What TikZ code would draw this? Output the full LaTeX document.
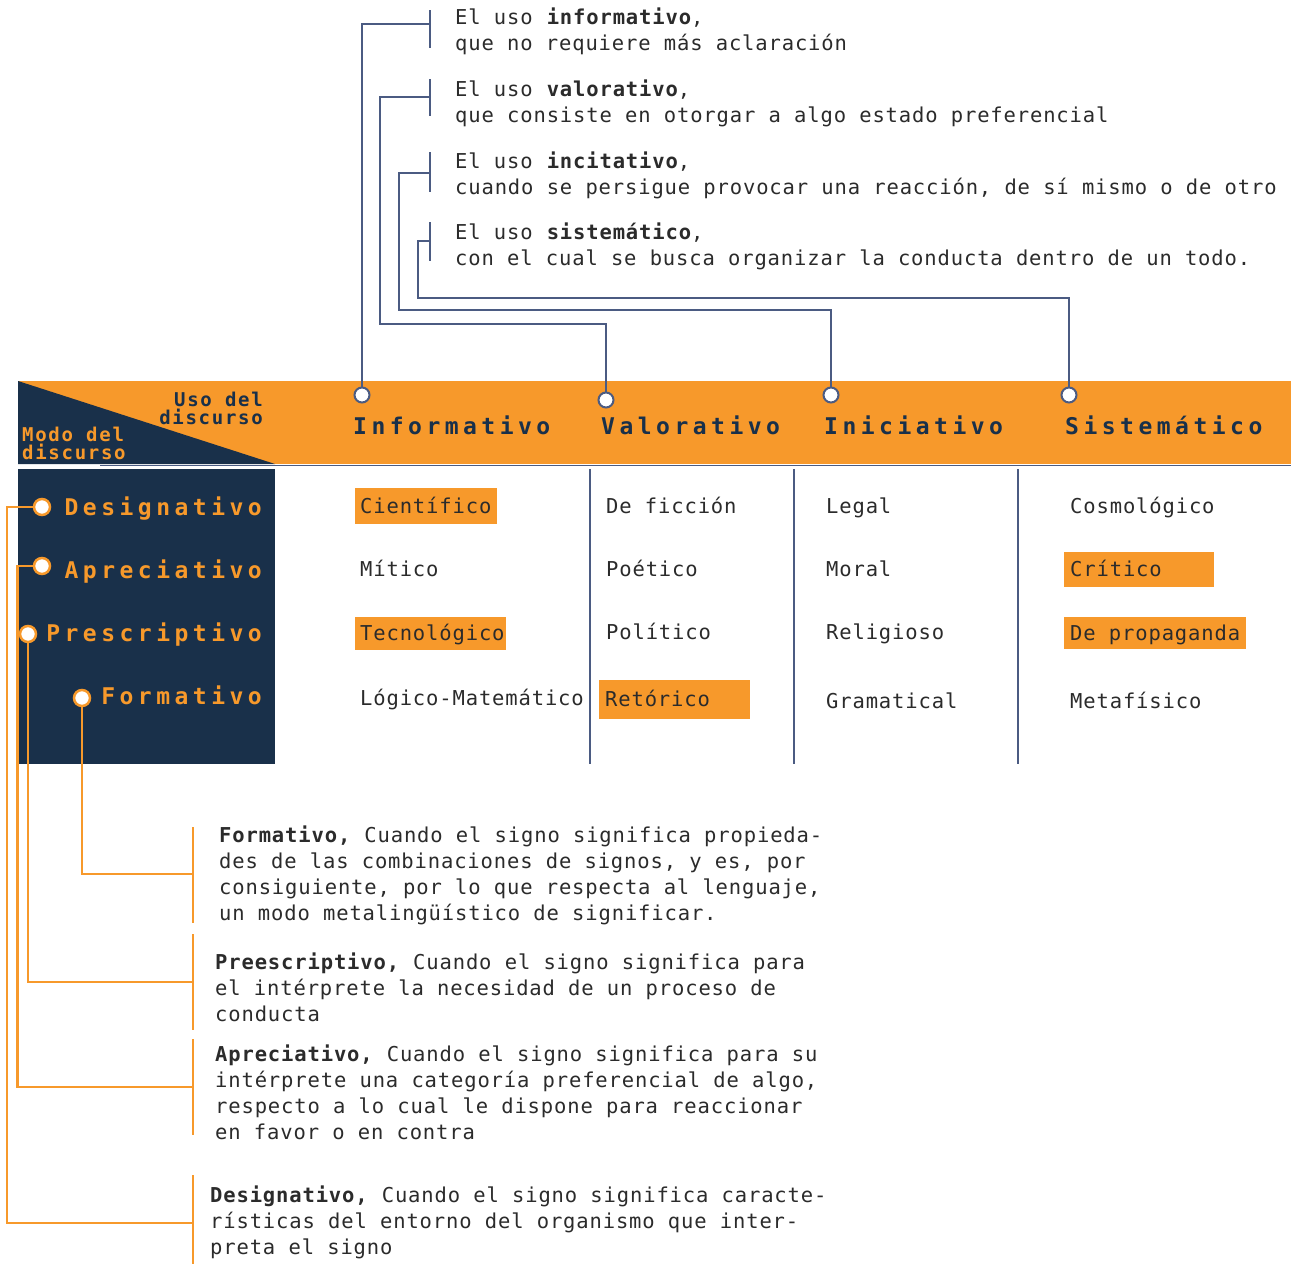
\documentclass[tikz,border=0pt]{standalone}
\usepackage{fontspec}
\newfontfamily\monoA[LetterSpace=4.2]{DejaVu Sans Mono}
\newfontfamily\monoB[LetterSpace=19.5]{DejaVu Sans Mono}
\newfontfamily\monoC[LetterSpace=9]{DejaVu Sans Mono}
\definecolor{org}{HTML}{F7992B}
\definecolor{navy}{HTML}{19304A}
\definecolor{slate}{HTML}{4B5B82}
\definecolor{txt}{HTML}{2B2B2B}
\begin{document}
\begin{tikzpicture}[x=1pt,y=-1pt,
  every node/.style={inner sep=0},
  body/.style={font=\monoA\fontsize{20.5}{26}\selectfont, text=txt, align=left, anchor=base west},
  cell/.style={font=\monoA\fontsize{20.5}{26}\selectfont, text=txt, anchor=west, inner xsep=5, text height=17, text depth=3, align=left},
  hdr/.style={font=\monoB\bfseries\fontsize{23}{26}\selectfont, text=navy, anchor=base west},
  lbl/.style={font=\monoB\bfseries\fontsize{23}{26}\selectfont, text=org, anchor=base east},
  small/.style={font=\monoC\bfseries\fontsize{19}{18}\selectfont},
  hc/.style={circle, draw=slate, fill=white, line width=2, minimum size=15},
  lc/.style={circle, draw=org, fill=white, line width=2.5, minimum size=16},
  sl/.style={draw=slate, line width=2},
  ol/.style={draw=org, line width=2.2}]
\useasboundingbox[fill=white] (0,0) rectangle (1293,1264);

% header band
\fill[org] (18,381) rectangle (1291,464);
\fill[navy] (18,381) -- (18,464) -- (275,464) -- cycle;
\draw[slate, line width=1.5] (100,465.5) -- (1291,465.5);
\node[small, text=navy, align=right, anchor=base east] (uso) at (263,424) {Uso del\\discurso};
\node[small, text=org, align=left, anchor=base west] (modo) at (22,459) {Modo del\\discurso};

% left dark box
\node[fill=navy, minimum width=257, minimum height=295, anchor=north west] (mbox) at (18,469) {};

% column separators
\draw[sl] (590,469) -- (590,764);
\draw[sl] (794,469) -- (794,764);
\draw[sl] (1018,469) -- (1018,764);

% header labels
\node[hdr] (hI) at (353,434) {Informativo};
\node[hdr] (hV) at (601,434) {Valorativo};
\node[hdr] (hN) at (824,434) {Iniciativo};
\node[hdr] (hS) at (1065,434) {Sistemático};

% left labels
\node[lbl] (lD) at (262,515) {Designativo};
\node[lbl] (lA) at (262,578) {Apreciativo};
\node[lbl] (lP) at (262,641) {Prescriptivo};
\node[lbl] (lF) at (262,704) {Formativo};

% cells
\node[cell, fill=org, text width=132, minimum height=36] (c11) at (355,506) {\rlap{Científico}};
\node[cell] (c12) at (355,569) {Mítico};
\node[cell, fill=org, text width=141, minimum height=33] (c13) at (355,633.5) {\rlap{Tecnológico}};
\node[cell] (c14) at (355,698) {Lógico-Matemático};
\node[cell] (c21) at (601,506) {De ficción};
\node[cell] (c22) at (601,569) {Poético};
\node[cell] (c23) at (601,632) {Político};
\node[cell, fill=org, text width=139, minimum height=39, inner xsep=6] (c24) at (599,699.5) {\rlap{Retórico}};
\node[cell] (c31) at (821,506) {Legal};
\node[cell] (c32) at (821,569) {Moral};
\node[cell] (c33) at (821,632) {Religioso};
\node[cell] (c34) at (821,701) {Gramatical};
\node[cell] (c41) at (1065,506) {Cosmológico};
\node[cell, fill=org, text width=138, minimum height=35, inner xsep=6] (c42) at (1064,569.5) {\rlap{Crítico}};
\node[cell, fill=org, text width=170, minimum height=32, inner xsep=6] (c43) at (1064,633) {\spaceskip=0pt\xspaceskip=0pt\rlap{De propaganda}};
\node[cell] (c44) at (1065,701) {Metafísico};

% top descriptions (anchor = baseline of last line)
\node[body] (dI) at (455,50) {El uso \textbf{informativo},\\que no requiere más aclaración};
\node[body] (dV) at (455,122) {El uso \textbf{valorativo},\\que consiste en otorgar a algo estado preferencial};
\node[body] (dN) at (455,194) {El uso \textbf{incitativo},\\cuando se persigue provocar una reacción, de sí mismo o de otro};
\node[body] (dS) at (455,265) {El uso \textbf{sistemático},\\con el cual se busca organizar la conducta dentro de un todo.};

% header circles
\node[hc] (cI) at (362,395) {};
\node[hc] (cV) at (606,400) {};
\node[hc] (cN) at (831,395) {};
\node[hc] (cS) at (1069,395) {};

% top brackets
\coordinate (tI) at (430,24);
\coordinate (tV) at (430,97);
\coordinate (tN) at (430,173);
\coordinate (tS) at (430,241);
\draw[sl] (430,10) -- (430,48);
\draw[sl] (430,79) -- (430,116);
\draw[sl] (430,152) -- (430,192);
\draw[sl] (430,222) -- (430,261);
\draw[sl] (cI.north) |- (tI);
\draw[sl] (cV.north) |- (380,324) |- (tV);
\draw[sl] (cN.north) |- (399,310) |- (tN);
\draw[sl] (cS.north) |- (418,297.5) |- (tS);

% bottom descriptions (anchor = baseline of last line)
\node[body] (bF) at (219,920) {\textbf{Formativo,} Cuando el signo significa propieda-\\des de las combinaciones de signos, y es, por\\consiguiente, por lo que respecta al lenguaje,\\un modo metalingüístico de significar.};
\node[body] (bP) at (215,1021) {\textbf{Preescriptivo,} Cuando el signo significa para\\el intérprete la necesidad de un proceso de\\conducta};
\node[body] (bA) at (215,1139) {\textbf{Apreciativo,} Cuando el signo significa para su\\intérprete una categoría preferencial de algo,\\respecto a lo cual le dispone para reaccionar\\en favor o en contra};
\node[body] (bD) at (210,1254) {\textbf{Designativo,} Cuando el signo significa caracte-\\rísticas del entorno del organismo que inter-\\preta el signo};

% left circles
\node[lc] (cD) at (42,507) {};
\node[lc] (cA) at (42,566) {};
\node[lc] (cP) at (28,634) {};
\node[lc] (cF) at (82,698) {};

% bottom brackets
\coordinate (tF) at (193,874);
\coordinate (tP) at (193,982);
\coordinate (tA) at (193,1087);
\coordinate (tD) at (193,1223);
\draw[ol] (193,827) -- (193,923);
\draw[ol] (193,934) -- (193,1030);
\draw[ol] (193,1039) -- (193,1135);
\draw[ol] (193,1175) -- (193,1264);
\draw[ol] (cD.west) -| (7,1223) -- (tD);
\draw[ol] (cA.west) -| (17.5,1087) -- (tA);
\draw[ol] (cP.south) |- (tP);
\draw[ol] (cF.south) |- (tF);
\end{tikzpicture}
\end{document}
